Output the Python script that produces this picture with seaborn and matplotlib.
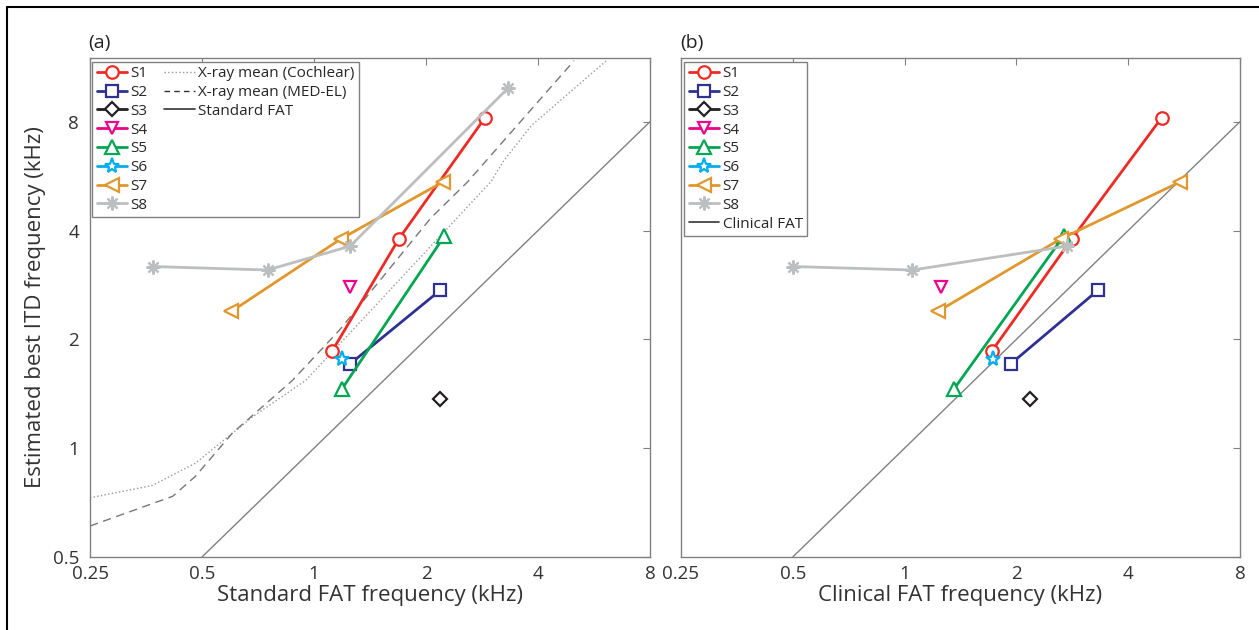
import numpy as np
import pandas as pd
import seaborn as sns
import matplotlib.pyplot as plt
from matplotlib.lines import Line2D

# data (kHz)
subjects = ['S1', 'S2', 'S3', 'S4', 'S5', 'S6', 'S7', 'S8']
itd_best = {
    'S1': [1.86, 3.79, 8.2],
    'S2': [1.71, 2.73],
    'S3': [1.37],
    'S4': [2.80],
    'S5': [1.46, 3.86],
    'S6': [1.77],
    'S7': [2.39, 3.79, 5.45],
    'S8': [3.18, 3.11, 3.62, 9.9],
}
fat_standard = {
    'S1': [1.12, 1.69, 2.88],
    'S2': [1.25, 2.18],
    'S3': [2.18],
    'S4': [1.25],
    'S5': [1.19, 2.24],
    'S6': [1.19],
    'S7': [0.60, 1.18, 2.22],
    'S8': [0.37, 0.75, 1.25, 3.32],
}
fat_clinical = {
    'S1': [1.72, 2.82, 4.92],
    'S2': [1.93, 3.31],
    'S3': [2.18],
    'S4': [1.25],
    'S5': [1.36, 2.68],
    'S6': [1.73],
    'S7': [1.23, 2.63, 5.52],
    'S8': [0.50, 1.05, 2.73],
}

# x-ray mean curves
xray_cochlear_x = [0.25, 0.367, 0.48, 0.532, 0.683, 0.95, 1.5, 2.24, 2.99, 3.22, 3.84, 6.11]
xray_cochlear_y = [0.729, 0.788, 0.909, 0.99, 1.22, 1.54, 2.55, 3.97, 5.46, 6.19, 7.81, 11.8]
xray_medel_x = [0.25, 0.417, 0.48, 0.603, 0.875, 1.17, 2.06, 2.59, 5.0]
xray_medel_y = [0.609, 0.736, 0.836, 1.10, 1.54, 2.12, 4.33, 5.46, 11.8]
fat_line = [0.5, 8]

ticks = [0.25, 0.5, 1, 2, 4, 8]
tick_labels = ['0.25', '0.5', '1', '2', '4', '8']

colors = {'S1': '#ee2a24', 'S2': '#2e3192', 'S3': '#231f20', 'S4': '#ec008c',
          'S5': '#00a651', 'S6': '#00aeef', 'S7': '#e0982e', 'S8': '#bcbec0'}
markers = {'S1': 'o', 'S2': 's', 'S3': 'D', 'S4': 'v', 'S5': '^', 'S6': '*',
           'S7': '<', 'S8': (8, 2, 0)}
msize = {'S1': 9, 'S2': 8, 'S3': 7, 'S4': 9, 'S5': 10, 'S6': 11, 'S7': 10, 'S8': 10}

sns.set_style('white')
plt.rcParams['font.family'] = ['Open Sans', 'DejaVu Sans']

fig = plt.figure(figsize=(12.59, 6.30), dpi=100)
ax1 = fig.add_axes([0.0715, 0.1159, 0.4448, 0.792])
ax2 = fig.add_axes([0.5409, 0.1159, 0.4440, 0.792])


def draw_subjects(ax, xdata):
    for s in subjects:
        n = len(xdata[s])
        df = pd.DataFrame({'x': xdata[s], 'y': itd_best[s][:n]})
        face = colors[s] if s == 'S8' else 'white'
        sns.lineplot(data=df, x='x', y='y', ax=ax, color=colors[s], lw=2,
                     marker=markers[s], markersize=msize[s], mfc=face,
                     mec=colors[s], mew=1.6, sort=False, estimator=None,
                     label=s, zorder=3)


def style_axes(ax, xlabel, show_y):
    ax.set_xscale('log', base=2)
    ax.set_yscale('log', base=2)
    ax.set_xlim(0.25, 8)
    ax.set_ylim(0.5, 12)
    ax.set_xticks(ticks)
    ax.set_xticklabels(tick_labels)
    ax.set_yticks(ticks[1:])
    ax.set_yticklabels(tick_labels[1:] if show_y else [])
    ax.minorticks_off()
    ax.tick_params(direction='in', length=5, width=0.8, color='#808080',
                   top=True, right=True, labelsize=13.5, labelcolor='#333333')
    ax.tick_params(axis='x', pad=6)
    ax.tick_params(axis='y', pad=8)
    for sp in ax.spines.values():
        sp.set_color('#808080')
        sp.set_linewidth(1)
    ax.set_xlabel(xlabel, fontsize=16, color='#333333', labelpad=1)


leg_kw = dict(loc='upper left', fontsize=11, frameon=True, fancybox=False,
              edgecolor='#808080', framealpha=1, handlelength=2.0, handletextpad=0.2,
              labelspacing=0.25, borderpad=0.3, borderaxespad=0)

# panel (a)
draw_subjects(ax1, fat_standard)
sns.lineplot(x=xray_cochlear_x, y=xray_cochlear_y, ax=ax1, color='#999999', lw=1,
             linestyle=':', sort=False, estimator=None, label='X-ray mean (Cochlear)')
sns.lineplot(x=xray_medel_x, y=xray_medel_y, ax=ax1, color='#777777', lw=1,
             linestyle=(0, (6, 4)), sort=False, estimator=None, label='X-ray mean (MED-EL)')
sns.lineplot(x=fat_line, y=fat_line, ax=ax1, color='#808080', lw=1,
             sort=False, estimator=None, label='Standard FAT')
style_axes(ax1, 'Standard FAT frequency (kHz)', True)
ax1.set_ylabel('Estimated best ITD frequency (kHz)', fontsize=16, color='#333333', labelpad=5)

h, l = ax1.get_legend_handles_labels()
blank = Line2D([], [], color='none')
legend_a_handles = h[:8] + [Line2D([], [], color='#999999', lw=1, linestyle=':'),
                            Line2D([], [], color='#333333', lw=1, linestyle=(0, (4, 3))),
                            Line2D([], [], color='#333333', lw=1.2)] + [blank] * 5
legend_a_labels = l[:8] + l[8:11] + [''] * 5
ax1.legend(legend_a_handles, legend_a_labels, ncol=2, bbox_to_anchor=(0.004, 0.993),
           columnspacing=1.1, **leg_kw)

# panel (b)
draw_subjects(ax2, fat_clinical)
sns.lineplot(x=fat_line, y=fat_line, ax=ax2, color='#808080', lw=1,
             sort=False, estimator=None, label='Clinical FAT')
style_axes(ax2, 'Clinical FAT frequency (kHz)', False)
ax2.set_ylabel('')
h, l = ax2.get_legend_handles_labels()
h[-1] = Line2D([], [], color='#333333', lw=1.2)
ax2.legend(h, l, bbox_to_anchor=(0.006, 0.993), **leg_kw)

fig.text(0.0700, 0.932, '(a)', fontsize=14, color='#222222', va='center')
fig.text(0.5405, 0.932, '(b)', fontsize=14, color='#222222', va='center')

# outer frame (top and left edges)
fig.add_artist(Line2D([0.0056, 1.0], [0.989, 0.989], transform=fig.transFigure,
                      color='black', lw=1.5))
fig.add_artist(Line2D([0.0056, 0.0056], [0.0, 0.989], transform=fig.transFigure,
                      color='black', lw=1.5))

fig.savefig('out.png', dpi=100)
